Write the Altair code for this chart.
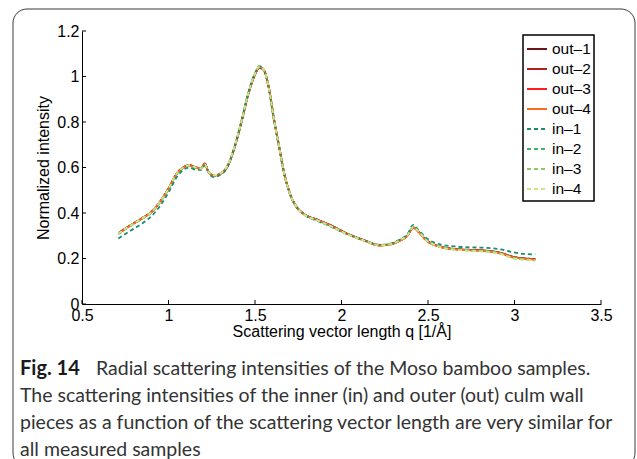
import altair as alt
import pandas as pd

# ---------------- data ----------------
q = [0.71, 0.78, 0.85, 0.90, 0.95, 1.00, 1.05, 1.09, 1.12, 1.16, 1.19, 1.21, 1.23,
     1.26, 1.30, 1.34, 1.38, 1.42, 1.46, 1.50, 1.525, 1.55, 1.58, 1.61, 1.64, 1.67,
     1.70, 1.74, 1.78, 1.86, 1.93, 2.03, 2.13, 2.22, 2.28, 2.34, 2.38, 2.415, 2.445,
     2.49, 2.57, 2.67, 2.75, 2.84, 2.92, 2.99, 3.05, 3.12]

out_1 = [0.312, 0.346, 0.379, 0.404, 0.449, 0.508, 0.576, 0.603, 0.611, 0.601, 0.597, 0.616, 0.582,
         0.565, 0.573, 0.604, 0.684, 0.794, 0.918, 1.008, 1.038, 1.028, 0.950, 0.812, 0.690, 0.571,
         0.490, 0.428, 0.398, 0.371, 0.349, 0.311, 0.281, 0.259, 0.262, 0.280, 0.300, 0.335, 0.318,
         0.281, 0.253, 0.241, 0.238, 0.234, 0.225, 0.208, 0.201, 0.198]
out_2 = [0.311, 0.345, 0.378, 0.403, 0.448, 0.507, 0.575, 0.602, 0.610, 0.600, 0.597, 0.618, 0.582,
         0.565, 0.573, 0.605, 0.685, 0.795, 0.920, 1.010, 1.040, 1.030, 0.950, 0.810, 0.690, 0.570,
         0.490, 0.427, 0.397, 0.370, 0.348, 0.310, 0.280, 0.258, 0.262, 0.280, 0.300, 0.336, 0.318,
         0.280, 0.252, 0.240, 0.237, 0.233, 0.224, 0.207, 0.200, 0.197]
out_3 = [0.310, 0.345, 0.378, 0.403, 0.448, 0.507, 0.575, 0.602, 0.610, 0.600, 0.597, 0.617, 0.582,
         0.565, 0.573, 0.605, 0.685, 0.795, 0.920, 1.010, 1.040, 1.030, 0.950, 0.810, 0.690, 0.570,
         0.490, 0.427, 0.397, 0.370, 0.348, 0.310, 0.280, 0.258, 0.262, 0.280, 0.300, 0.337, 0.318,
         0.280, 0.252, 0.240, 0.237, 0.233, 0.224, 0.207, 0.200, 0.196]
out_4 = [0.309, 0.344, 0.377, 0.402, 0.447, 0.506, 0.574, 0.601, 0.609, 0.600, 0.596, 0.616, 0.581,
         0.564, 0.572, 0.604, 0.684, 0.795, 0.921, 1.011, 1.041, 1.031, 0.951, 0.811, 0.689, 0.569,
         0.489, 0.426, 0.396, 0.369, 0.347, 0.309, 0.279, 0.257, 0.261, 0.279, 0.299, 0.336, 0.317,
         0.279, 0.251, 0.239, 0.236, 0.232, 0.223, 0.206, 0.199, 0.195]
in_1 = [0.288, 0.322, 0.355, 0.385, 0.430, 0.490, 0.560, 0.592, 0.600, 0.590, 0.590, 0.610, 0.580,
        0.558, 0.568, 0.600, 0.685, 0.800, 0.925, 1.015, 1.045, 1.030, 0.945, 0.805, 0.685, 0.567,
        0.487, 0.425, 0.395, 0.365, 0.343, 0.307, 0.280, 0.260, 0.265, 0.285, 0.305, 0.348, 0.325,
        0.290, 0.262, 0.252, 0.249, 0.247, 0.240, 0.228, 0.220, 0.218]
in_2 = [0.308, 0.343, 0.376, 0.401, 0.446, 0.505, 0.574, 0.601, 0.608, 0.598, 0.595, 0.612, 0.581,
        0.565, 0.574, 0.606, 0.687, 0.798, 0.923, 1.013, 1.043, 1.030, 0.948, 0.808, 0.688, 0.569,
        0.489, 0.426, 0.396, 0.368, 0.346, 0.309, 0.280, 0.259, 0.263, 0.282, 0.302, 0.340, 0.320,
        0.282, 0.253, 0.240, 0.236, 0.232, 0.222, 0.204, 0.197, 0.194]
in_3 = [0.309, 0.344, 0.377, 0.402, 0.447, 0.506, 0.575, 0.602, 0.609, 0.599, 0.595, 0.612, 0.581,
        0.566, 0.575, 0.607, 0.688, 0.798, 0.923, 1.013, 1.043, 1.030, 0.948, 0.808, 0.688, 0.569,
        0.489, 0.426, 0.396, 0.368, 0.345, 0.308, 0.279, 0.258, 0.262, 0.281, 0.301, 0.339, 0.319,
        0.281, 0.251, 0.238, 0.234, 0.230, 0.220, 0.202, 0.195, 0.192]
in_4 = [0.310, 0.345, 0.378, 0.403, 0.448, 0.507, 0.576, 0.603, 0.610, 0.600, 0.596, 0.613, 0.582,
        0.566, 0.575, 0.607, 0.688, 0.798, 0.922, 1.012, 1.042, 1.030, 0.948, 0.809, 0.689, 0.569,
        0.489, 0.426, 0.396, 0.368, 0.345, 0.308, 0.279, 0.258, 0.262, 0.281, 0.301, 0.338, 0.319,
        0.281, 0.251, 0.238, 0.234, 0.230, 0.220, 0.202, 0.195, 0.192]

series_names = ["out–1", "out–2", "out–3", "out–4", "in–1", "in–2", "in–3", "in–4"]
series_values = [out_1, out_2, out_3, out_4, in_1, in_2, in_3, in_4]
series_colors = ["#6b1616", "#b02020", "#ff1e1e", "#ff6a1e",
                 "#1f8a6e", "#3cb46e", "#8ec864", "#d0e482"]
series_dashes = [[1, 0], [1, 0], [1, 0], [1, 0], [4, 3], [4, 3], [4, 3], [4, 3]]

x_ticks = [0.5, 1.0, 1.5, 2.0, 2.5, 3.0, 3.5]
y_ticks = [0.0, 0.2, 0.4, 0.6, 0.8, 1.0, 1.2]

x_title = "Scattering vector length q [1/Å]"
y_title = "Normalized intensity"

caption_bold = "Fig. 14"
caption_lines = [
    "Radial scattering intensities of the Moso bamboo samples.",
    "The scattering intensities of the inner (in) and outer (out) culm wall",
    "pieces as a function of the scattering vector length are very similar for",
    "all measured samples",
]

# ---------------- build table ----------------
rows = []
for k, (name, vals) in enumerate(zip(series_names, series_values)):
    for qq, v in zip(q, vals):
        rows.append({"q": qq, "I": v, "series": name, "k": k})
df = pd.DataFrame(rows)

W, H = 519, 273
FONT = "Liberation Sans"
CAP_FONT = "Lato"

xscale = alt.Scale(domain=[0.5, 3.5], nice=False, zero=False)
yscale = alt.Scale(domain=[0, 1.2], nice=False, zero=False)

color = alt.Color("series:N", title=None,
                  scale=alt.Scale(domain=series_names, range=series_colors),
                  legend=alt.Legend(orient="none", legendX=441, legendY=4))
dash = alt.StrokeDash("series:N", title=None,
                      scale=alt.Scale(domain=series_names, range=series_dashes),
                      legend=alt.Legend(orient="none", legendX=441, legendY=4))

lines = alt.Chart(df).mark_line(strokeWidth=1.8, interpolate="monotone").encode(
    x=alt.X("q:Q", scale=xscale,
            axis=alt.Axis(values=x_ticks, format="~g", title=x_title, ticks=False,
                          labelFlush=False, labelOverlap=False, labelPadding=3,
                          titlePadding=0, grid=False)),
    y=alt.Y("I:Q", scale=yscale,
            axis=alt.Axis(values=y_ticks, format="~g", title=y_title, ticks=False,
                          labelFlush=False, labelOverlap=False, labelPadding=3,
                          titlePadding=5, grid=False)),
    color=color,
    strokeDash=dash,
    order="k:Q",
)

# inward-pointing tick marks placed through the same scales
xt = alt.Chart(pd.DataFrame({"v": x_ticks})).mark_rule(color="black", strokeWidth=1).encode(
    x=alt.X("v:Q", scale=xscale), y=alt.value(H), y2=alt.value(H - 4))
yt = alt.Chart(pd.DataFrame({"v": y_ticks})).mark_rule(color="black", strokeWidth=1).encode(
    y=alt.Y("v:Q", scale=yscale), x=alt.value(0), x2=alt.value(4))

one = pd.DataFrame({"a": [0]})

border = alt.Chart(one).mark_rect(fillOpacity=0, stroke="#3a3a3a", strokeWidth=1,
                                  cornerRadius=14).encode(
    x=alt.value(-69), x2=alt.value(553), y=alt.value(-22), y2=alt.value(436))

CAP_Y0 = 344
cap_bold = alt.Chart(pd.DataFrame({"t": [caption_bold]})).mark_text(
    align="left", baseline="alphabetic", font=CAP_FONT, fontSize=20, fontWeight="bold",
    color="#1a1a1a").encode(x=alt.value(-62), y=alt.value(CAP_Y0), text="t:N")

cap_layers = []
for i, line in enumerate(caption_lines):
    xx = 14 if i == 0 else -62
    cap_layers.append(
        alt.Chart(pd.DataFrame({"t": [line]})).mark_text(
            align="left", baseline="alphabetic", font=CAP_FONT, fontSize=19.5,
            color="#333333").encode(x=alt.value(xx), y=alt.value(CAP_Y0 + 27 * i), text="t:N"))

chart = alt.layer(border, lines, xt, yt, cap_bold, *cap_layers).properties(
    width=W, height=H,
    autosize=alt.AutoSizeParams(type="none"),
    padding={"left": 82, "top": 31, "right": 36, "bottom": 155},
    background="white",
).configure_view(stroke=None).configure_axis(
    domainColor="black", domainWidth=1, tickColor="black", tickWidth=1,
    labelFont=FONT, labelFontSize=16, labelColor="black",
    titleFont=FONT, titleFontSize=16, titleFontWeight="normal", titleColor="black",
).configure_legend(
    strokeColor="black", strokeWidth=1.5, fillColor="white", padding=3,
    symbolType="stroke", symbolSize=400, symbolStrokeWidth=2,
    labelFont=FONT, labelFontSize=15.5, labelColor="black", labelOffset=4,
    rowPadding=0,
)

chart.save("out.html", embed_options={"renderer": "svg", "actions": False})
